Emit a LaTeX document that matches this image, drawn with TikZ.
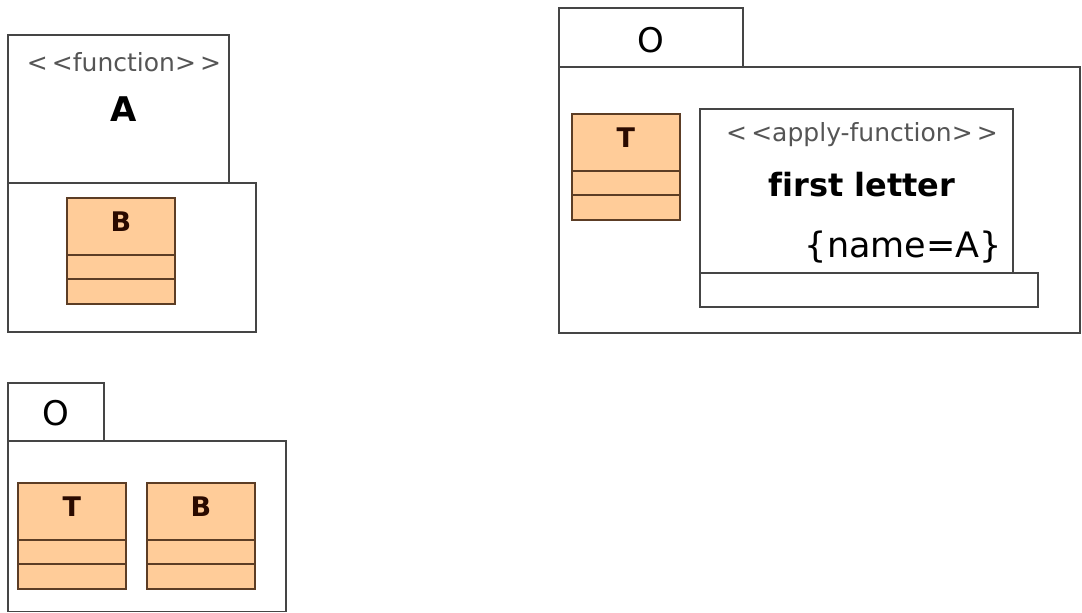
\documentclass[tikz,border=0pt]{standalone}
\usepackage{fontspec}
\setmainfont{DejaVu Sans}
\usetikzlibrary{calc}
\definecolor{clsfill}{HTML}{FFCC99}
\definecolor{clsline}{HTML}{5C3D25}
\definecolor{boxline}{HTML}{454545}
\definecolor{stereo}{HTML}{555555}
\definecolor{clstext}{HTML}{2A0A00}
\tikzset{
  box/.style={draw=boxline, line width=1.7pt, fill=white},
  cls/.style={draw=clsline, line width=1.7pt, fill=clsfill, minimum width=108pt, minimum height=106pt, inner sep=0pt, anchor=north west},
  clssep/.style={draw=clsline, line width=1.7pt},
  clslabel/.style={font=\fontsize{27}{32}\selectfont\bfseries, text=clstext, inner sep=0pt},
  stereotext/.style={font=\fontsize{25}{30}\selectfont, text=stereo, inner sep=0pt},
  pkgname/.style={font=\fontsize{34}{40}\selectfont, inner sep=0pt},
}
\newcommand\umlcls[4]{%
  \node[cls] (#1) at (#2,#3) {};
  \node[clslabel] (#1-t) at ($(#1.north)+(0,25)$) {#4};
  \draw[clssep] ($(#1.north west)+(0,58)$) -- ($(#1.north east)+(0,58)$);
  \draw[clssep] ($(#1.north west)+(0,82)$) -- ($(#1.north east)+(0,82)$);
}
\begin{document}
\begin{tikzpicture}[x=1pt,y=-1pt]
\useasboundingbox (0,0) rectangle (1082,613);
% function A
\draw[box] (8,35) rectangle (229,183);
\draw[box] (8,183) rectangle (256,332);
\node[stereotext] (fst) at (124,62) {<\,<function>\,>};
\node[font=\fontsize{34}{40}\selectfont\bfseries, inner sep=0pt] (fA) at (124,109) {A};
\umlcls{clsB1}{66}{197}{B}
% package O (right)
\draw[box] (559,8) rectangle (743,67);
\draw[box] (559,67) rectangle (1080,333);
\node[pkgname] (oR) at (651,40) {O};
\umlcls{clsT1}{571}{113}{T}
\draw[box] (700,109) rectangle (1013,273);
\draw[box] (700,273) rectangle (1038,307);
\node[stereotext] (ast) at (862,135) {<\,<apply-function>\,>};
\node[font=\fontsize{32}{36}\selectfont\bfseries, inner sep=0pt] (afn) at (862,185) {f\kern0pt irst letter};
\node[font=\fontsize{35}{40}\selectfont, inner sep=0pt, anchor=east] (apar) at (1002,247) {\{name=A\}};
% package O (bottom)
\draw[box] (8,383) rectangle (104,441);
\draw[box] (8,441) rectangle (286,611.5);
\node[pkgname] (oB) at (56,413) {O};
\umlcls{clsT2}{17}{482}{T}
\umlcls{clsB2}{146}{482}{B}
\end{tikzpicture}
\end{document}
